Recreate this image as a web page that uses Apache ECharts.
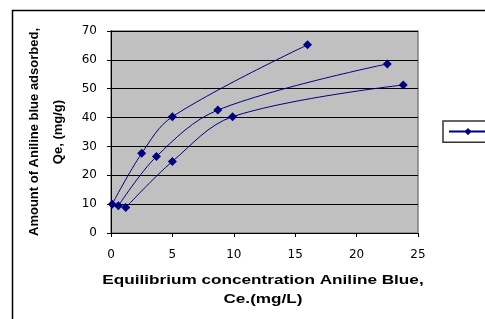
<!DOCTYPE html>
<html>
<head>
<meta charset="utf-8">
<script src="https://cdn.jsdelivr.net/npm/echarts@6/dist/echarts.min.js"></script>
<style>html,body{margin:0;padding:0;background:#fff}#c{width:485px;height:319px}</style>
</head>
<body>
<div id="c"></div>
<script>
// Data
const seriesAX = [0.1, 2.5, 5.0, 16.0];
const seriesAY = [10.0, 27.6, 40.3, 65.2];
const seriesBX = [0.6, 3.7, 8.7, 22.5];
const seriesBY = [9.4, 26.5, 42.6, 58.6];
const seriesCX = [1.2, 5.0, 9.9, 23.8];
const seriesCY = [8.8, 24.8, 40.3, 51.3];
const xTitle = 'Equilibrium concentration Aniline Blue,\nCe.(mg/L)';
const yTitle = 'Amount of Aniline blue adsorbed,\nQe, (mg/g)';

const pairs = (xs, ys) => xs.map((x, i) => [x, ys[i]]);
const navy = '#000080';
const mk = (xs, ys) => ({
  type: 'line', name: ' ', data: pairs(xs, ys), smooth: 0.35,
  symbol: 'diamond', symbolSize: 9,
  lineStyle: { color: navy, width: 1 },
  itemStyle: { color: navy },
  emphasis: { disabled: true }
});

const chart = echarts.init(document.getElementById('c'), null, { renderer: 'canvas' });
chart.setOption({
  animation: false,
  textStyle: { fontFamily: 'Liberation Sans, Arial, sans-serif' },
  graphic: [{
    type: 'rect', left: 10, top: 8, shape: { width: 490, height: 330 },
    style: { fill: 'none', stroke: '#000', lineWidth: 1.5 }, z: -10
  }, {
    type: 'text', x: 263, y: 271, scaleX: 1.32,
    style: {
      text: xTitle, textAlign: 'center', textVerticalAlign: 'top',
      font: 'bold 13px "Liberation Sans", Arial, sans-serif', lineHeight: 19, fill: '#000'
    }
  }],
  grid: {
    left: 111, top: 31, right: 67, bottom: 86, show: true,
    backgroundColor: '#c0c0c0', borderColor: '#808080', borderWidth: 1.5
  },
  legend: {
    show: true, left: 443, top: 121, orient: 'vertical',
    data: [' '], itemWidth: 38, itemHeight: 9, itemGap: 0,
    padding: [7, 10, 7, 5], backgroundColor: '#fff',
    borderColor: '#333', borderWidth: 1.5,
    textStyle: { fontSize: 1 }
  },
  xAxis: {
    type: 'value', min: 0, max: 25, interval: 5,
    axisLine: { show: true, lineStyle: { color: '#000', width: 1 } },
    axisTick: { show: true, inside: false, length: 4, lineStyle: { color: '#000' } },
    axisLabel: { color: '#000', fontSize: 12, margin: 16, fontFamily: 'DejaVu Sans' },
    splitLine: { show: false }
  },
  yAxis: {
    type: 'value', min: 0, max: 70, interval: 10,
    name: yTitle, nameLocation: 'middle', nameGap: 38, nameRotate: 90,
    nameTextStyle: { fontWeight: 'bold', fontSize: 13, color: '#000', lineHeight: 24 },
    axisLine: { show: true, lineStyle: { color: '#000', width: 1 } },
    axisTick: { show: true, inside: false, length: 4, lineStyle: { color: '#000' } },
    axisLabel: { color: '#000', fontSize: 12, margin: 14, fontFamily: 'DejaVu Sans' },
    splitLine: { show: true, lineStyle: { color: '#000', width: 1 } }
  },
  series: [mk(seriesAX, seriesAY), mk(seriesBX, seriesBY), mk(seriesCX, seriesCY)]
});
</script>
</body>
</html>
